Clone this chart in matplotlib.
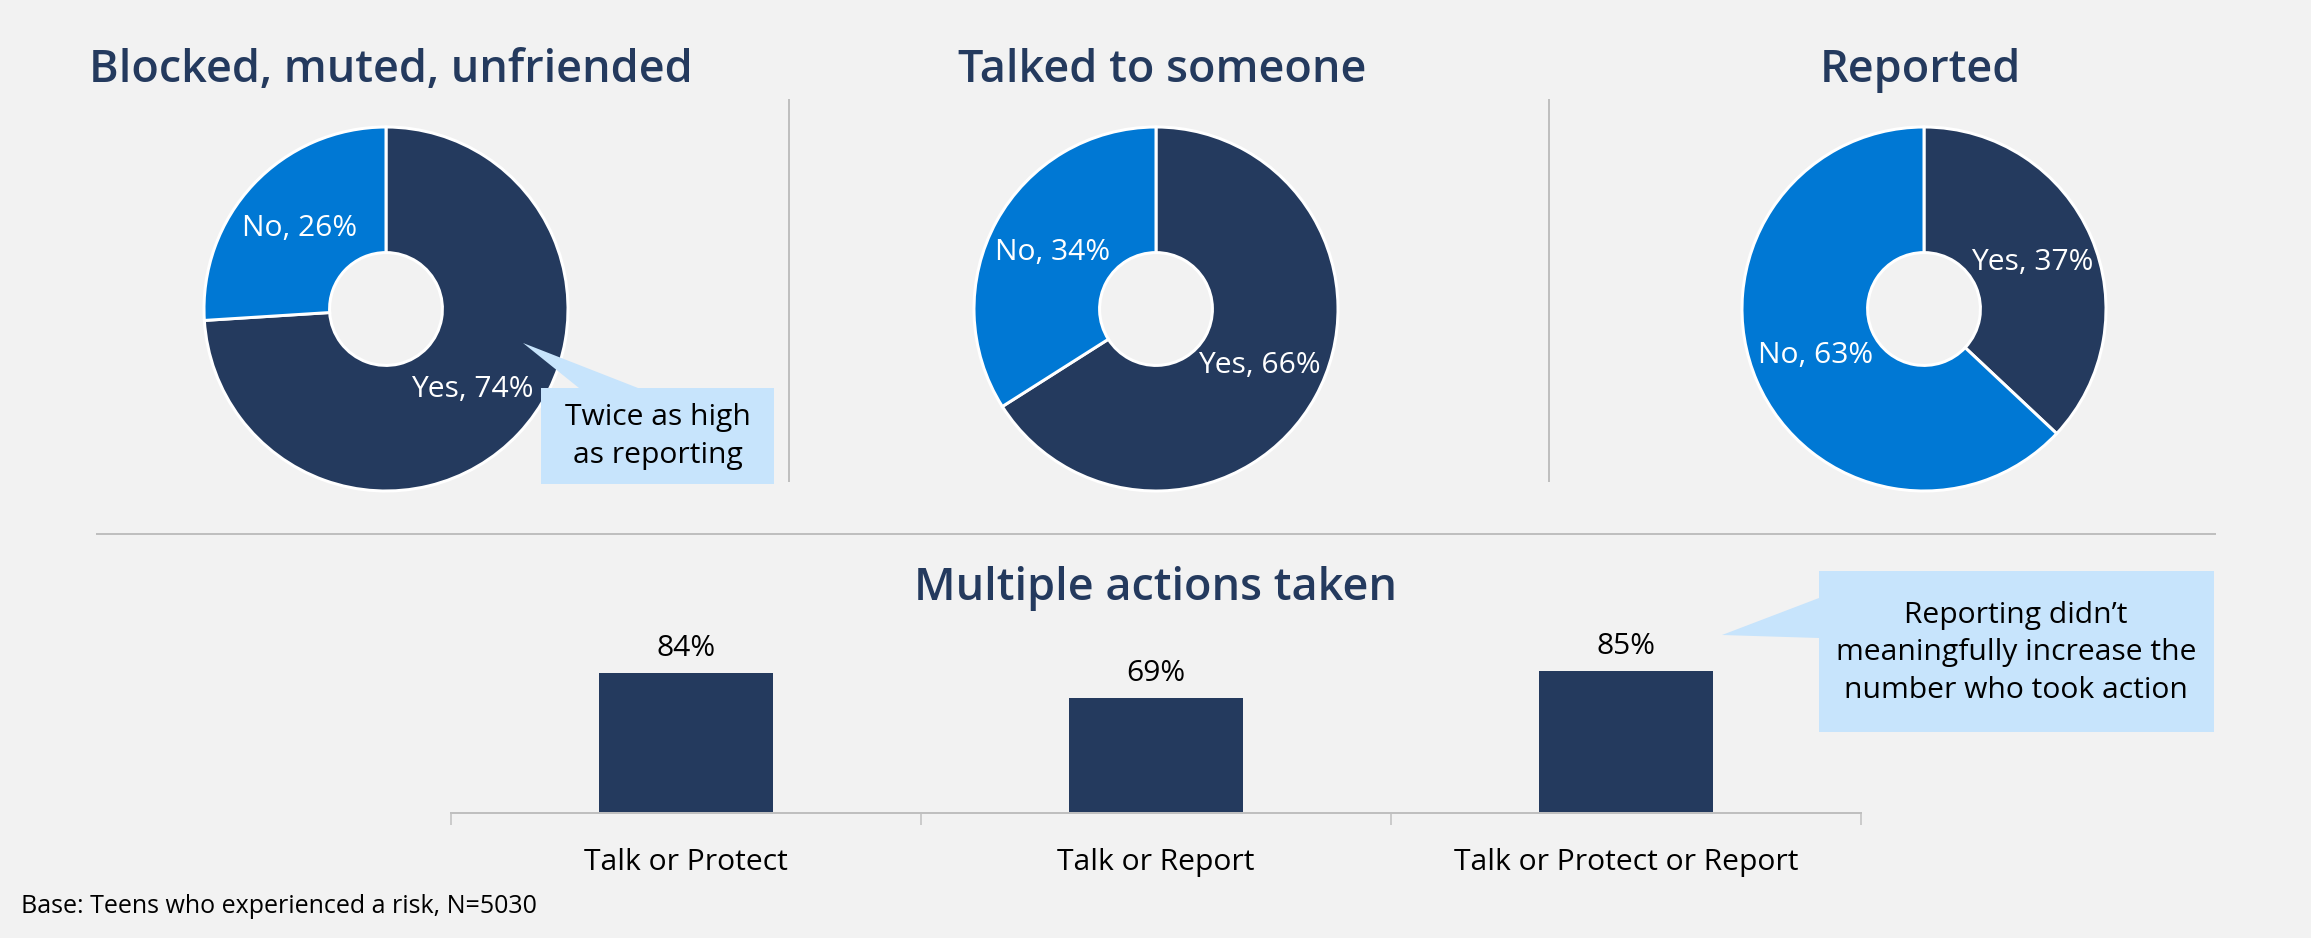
import matplotlib
matplotlib.use('Agg')
import matplotlib.pyplot as plt
from matplotlib.patches import Polygon
import numpy as np

W, H = 2311, 938
DPI = 100
PT = 72 / DPI  # points per pixel

# ---------------- data ----------------
donut_titles = ["Blocked, muted, unfriended", "Talked to someone", "Reported"]
yes_values = [74, 66, 37]
no_values = [26, 34, 63]
slice_names = ["Yes", "No"]

bar_title = "Multiple actions taken"
bar_categories = ["Talk or Protect", "Talk or Report", "Talk or Protect or Report"]
bar_values = [84, 69, 85]

callout1_lines = ["Twice as high", "as reporting"]
callout2_lines = ["Reporting didn\u2019t", "meaningfully increase the", "number who took action"]
footer = "Base: Teens who experienced a risk, N=5030"

# ---------------- style ----------------
NAVY = '#243A5E'
BLUE = '#0078D4'
CALLOUT = '#C7E4FC'
BG = '#F2F2F2'
GRAY = '#BFBFBF'

plt.rcParams['font.family'] = ['Open Sans', 'DejaVu Sans']

fig = plt.figure(figsize=(W / DPI, H / DPI), dpi=DPI, facecolor=BG)


def rect(x0, y0, w, h):
    return [x0 / W, 1 - (y0 + h) / H, w / W, h / H]


# ---------------- donuts ----------------
centers_x = [386, 1156, 1924]
cy = 309
R = 182
m = 1.03
title_x = [391, 1162, 1920]

for cx, yes, no in zip(centers_x, yes_values, no_values):
    ax = fig.add_axes(rect(cx - R * m, cy - R * m, 2 * R * m, 2 * R * m))
    wedges, _ = ax.pie([yes, no], colors=[NAVY, BLUE], startangle=90,
                       counterclock=False, radius=1,
                       wedgeprops=dict(width=0.69, edgecolor='white',
                                       linewidth=3 * PT))
    ax.set_xlim(-m, m)
    ax.set_ylim(-m, m)
    ax.set_aspect('equal')
    ax.axis('off')
    for w, name, val in zip(wedges, slice_names, [yes, no]):
        th = np.deg2rad((w.theta1 + w.theta2) / 2)
        ax.text(0.65 * np.cos(th), 0.65 * np.sin(th), f'{name}, {val}%',
                ha='center', va='center', color='white', fontsize=30 * PT)

# ---------------- bar chart ----------------
bx = fig.add_axes(rect(451, 646, 1410, 167))
bx.set_facecolor('none')
xpos = np.arange(len(bar_values))
bars = bx.bar(xpos, bar_values, width=0.37, color=NAVY)
bx.set_xlim(-0.5, len(bar_values) - 0.5)
bx.set_ylim(0, 100)
for s in ['left', 'right', 'top']:
    bx.spines[s].set_visible(False)
bx.spines['bottom'].set_color(GRAY)
bx.spines['bottom'].set_linewidth(2 * PT)
bx.set_yticks([])
bx.set_xticks(xpos, bar_categories)
bx.tick_params(axis='x', which='major', length=0, pad=35 * PT,
               labelsize=30 * PT, labelcolor='black')
bx.set_xticks(np.arange(-0.5, len(bar_values), 1), minor=True)
bx.tick_params(axis='x', which='minor', length=12 * PT, width=1.5 * PT,
               color=GRAY)
bx.bar_label(bars, labels=[f'{v}%' for v in bar_values], padding=10 * PT,
             fontsize=30 * PT, color='black')

# ---------------- overlay (titles, separators, callouts) ----------------
ov = fig.add_axes([0, 0, 1, 1])
ov.set_xlim(0, W)
ov.set_ylim(H, 0)
ov.axis('off')
ov.set_zorder(5)

for tx, t in zip(title_x, donut_titles):
    ov.text(tx, 82, t, ha='center', va='baseline', color=NAVY,
            fontsize=45 * PT, fontweight='semibold')
ov.text(1156, 600, bar_title, ha='center', va='baseline', color=NAVY,
        fontsize=45 * PT, fontweight='semibold')

# separators
ov.plot([789, 789], [100, 481], color=GRAY, lw=2 * PT)
ov.plot([1549, 1549], [100, 481], color=GRAY, lw=2 * PT)
ov.plot([97, 2215], [534, 534], color=GRAY, lw=2 * PT)

# callout 1
ov.add_patch(Polygon([(541, 388), (579, 388), (523, 343), (638, 388),
                      (774, 388), (774, 484), (541, 484)],
                     closed=True, facecolor=CALLOUT, edgecolor='none'))
for k, line in enumerate(callout1_lines):
    ov.text(658, 417 + 38 * k, line, ha='center', va='center',
            color='black', fontsize=30 * PT)

# callout 2
ov.add_patch(Polygon([(1819, 571), (2214, 571), (2214, 732), (1819, 732),
                      (1819, 638), (1722, 635), (1819, 598)],
                     closed=True, facecolor=CALLOUT, edgecolor='none'))
for k, line in enumerate(callout2_lines):
    ov.text(2016, 615 + 37.5 * k, line, ha='center', va='center',
            color='black', fontsize=30 * PT)

# footer
ov.text(21, 913, footer, ha='left', va='baseline', color='black',
        fontsize=25 * PT)

fig.savefig('out.png', dpi=DPI, facecolor=BG)
